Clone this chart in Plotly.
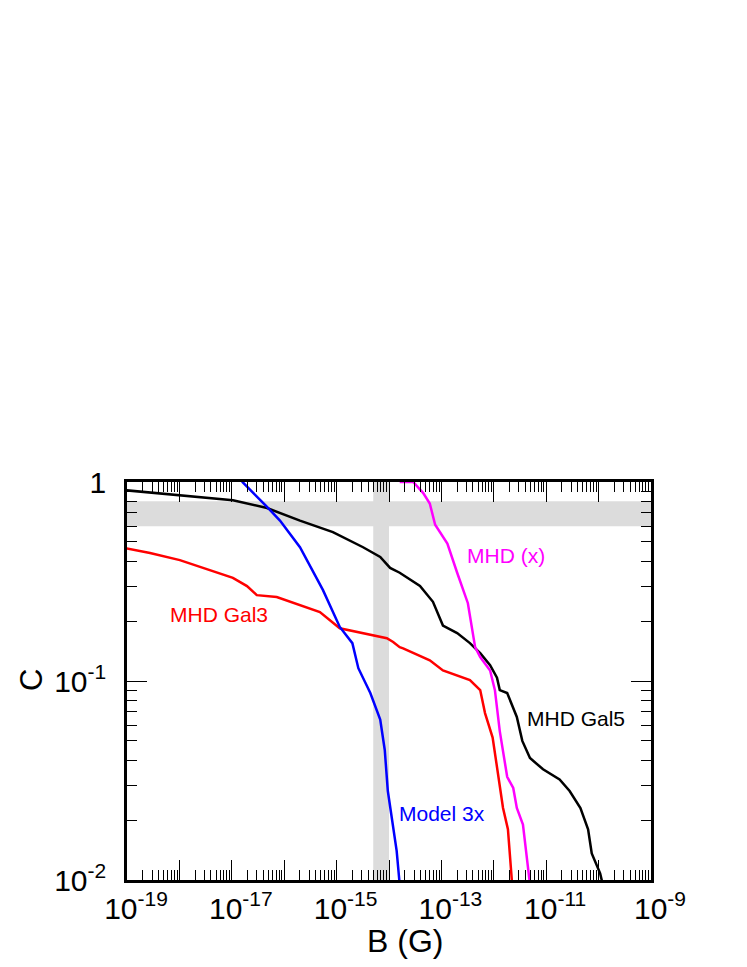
import plotly.graph_objects as go

# ---- data ----
gal5_B = [9e-20, 1.02e-18, 1.05e-17, 4.7e-17, 2.0e-16, 8.5e-16, 3.2e-15, 6.8e-15, 1.05e-14, 1.6e-14,
          3.9e-14, 6.9e-14, 1.07e-13, 2.0e-13, 3.5e-13, 5.5e-13, 8.5e-13, 1.15e-12, 1.3e-12, 1.8e-12,
          2.75e-12, 3.5e-12, 4.9e-12, 8.7e-12, 1.8e-11, 2.8e-11, 4.5e-11, 6.3e-11, 7.4e-11, 1.07e-10, 1.2e-10]
gal5_C = [0.91, 0.86, 0.81, 0.74, 0.64, 0.56, 0.47, 0.42, 0.37, 0.35,
          0.30, 0.25, 0.19, 0.174, 0.155, 0.138, 0.120, 0.104, 0.090, 0.087,
          0.066, 0.050, 0.041, 0.036, 0.032, 0.028, 0.023, 0.018, 0.0136, 0.0108, 0.0095]

gal3_B = [9e-20, 2.75e-19, 1.02e-18, 3.8e-18, 1.05e-17, 1.95e-17, 3.0e-17, 7.2e-17, 2.0e-16, 4.8e-16,
          1.15e-15, 3.2e-15, 9.1e-15, 1.2e-14, 1.6e-14, 1.86e-14, 2.9e-14, 6.0e-14, 1.07e-13, 2.6e-13,
          3.5e-13, 5.5e-13, 6.8e-13, 9.5e-13, 1.2e-12, 1.5e-12, 1.86e-12, 2.24e-12]
gal3_C = [0.466, 0.44, 0.405, 0.36, 0.33, 0.30, 0.27, 0.264, 0.24, 0.222,
          0.184, 0.174, 0.164, 0.157, 0.148, 0.146, 0.138, 0.127, 0.113, 0.104,
          0.101, 0.090, 0.069, 0.052, 0.034, 0.023, 0.018, 0.0095]

model3x_B = [1.5e-17, 1.6e-17, 4.7e-17, 8.3e-17, 2.0e-16, 3.5e-16, 5.5e-16, 1.15e-15, 2.0e-15, 2.6e-15,
             4.4e-15, 6.8e-15, 8.3e-15, 9.5e-15, 1.2e-14, 1.4e-14, 1.6e-14]
model3x_C = [1.05, 1.0, 0.75, 0.64, 0.47, 0.36, 0.286, 0.187, 0.155, 0.116,
             0.087, 0.064, 0.045, 0.028, 0.019, 0.014, 0.0095]

mhdx_B = [1.6e-14, 2.9e-14, 4.5e-14, 6.0e-14, 7.6e-14, 1.3e-13, 2.0e-13, 3.2e-13, 4.4e-13, 5.5e-13,
          8.5e-13, 1.05e-12, 1.3e-12, 1.8e-12, 2.35e-12, 2.75e-12, 3.6e-12, 4.9e-12]
mhdx_C = [1.0, 1.0, 0.88, 0.78, 0.61, 0.49, 0.35, 0.246, 0.148, 0.132,
          0.113, 0.090, 0.056, 0.033, 0.029, 0.023, 0.019, 0.0095]

# shaded bands
band_C = [0.6, 0.8]
band_B = [5e-15, 1e-14]

x_tick_vals = [1e-19, 1e-18, 1e-17, 1e-16, 1e-15, 1e-14, 1e-13, 1e-12, 1e-11, 1e-10, 1e-9]
x_tick_text = ["10<sup>-19</sup>", "", "10<sup>-17</sup>", "", "10<sup>-15</sup>", "",
               "10<sup>-13</sup>", "", "10<sup>-11</sup>", "", "10<sup>-9</sup>"]
y_tick_vals = [0.01, 0.1, 1]
y_tick_text = ["10<sup>-2</sup>", "10<sup>-1</sup>", "1"]

x_minor = [m * 10.0 ** e for e in range(-19, -9) for m in range(2, 10)]
y_minor = [m * 10.0 ** e for e in range(-2, 0) for m in range(2, 10)]

FONT = "Liberation Sans, Arial, sans-serif"

fig = go.Figure()
series = [
    (gal5_B, gal5_C, "black", "MHD Gal5"),
    (gal3_B, gal3_C, "#ff0000", "MHD Gal3"),
    (model3x_B, model3x_C, "#0000ff", "Model 3x"),
    (mhdx_B, mhdx_C, "#ff00ff", "MHD (x)"),
]
for xb, yc, col, name in series:
    fig.add_trace(go.Scatter(x=xb, y=yc, mode="lines", name=name,
                             line=dict(color=col, width=2.5), showlegend=False))

# grey bands
fig.add_shape(type="rect", xref="paper", yref="y", x0=0, x1=1, y0=band_C[0], y1=band_C[1],
              fillcolor="#dcdcdc", line=dict(width=0), layer="below")
fig.add_shape(type="rect", xref="x", yref="paper", x0=band_B[0], x1=band_B[1], y0=0, y1=1,
              fillcolor="#dcdcdc", line=dict(width=0), layer="below")

# curve labels (log coordinates for annotations on log axes)
labels = [
    ("MHD Gal3", -17.25, -0.664, "#ff0000"),
    ("MHD (x)", -11.77, -0.367, "#ff00ff"),
    ("MHD Gal5", -10.43, -1.187, "black"),
    ("Model 3x", -12.99, -1.665, "#0000ff"),
]
for txt, lx, ly, col in labels:
    fig.add_annotation(x=lx, y=ly, xref="x", yref="y", text=txt, showarrow=False,
                       xanchor="center", yanchor="middle",
                       font=dict(size=21, color=col, family=FONT))

# axis titles
fig.add_annotation(x=0.53, y=-0.153, xref="paper", yref="paper", text="B (G)", showarrow=False,
                   xanchor="center", yanchor="middle", font=dict(size=32, color="black", family=FONT))
fig.add_annotation(x=-0.183, y=0.5025, xref="paper", yref="paper", text="C", showarrow=False,
                   textangle=-90, xanchor="center", yanchor="middle",
                   font=dict(size=31, color="black", family=FONT))

axis_common = dict(type="log", ticks="inside", ticklen=20, tickwidth=1, tickcolor="black",
                   showline=True, linewidth=2.5, linecolor="black", mirror="allticks",
                   showgrid=False, zeroline=False,
                   tickfont=dict(size=30, color="black", family=FONT))

fig.update_xaxes(range=[-19, -9], tickmode="array", tickvals=x_tick_vals, ticktext=x_tick_text,
                 ticklabelshift=9,
                 minor=dict(ticks="inside", ticklen=10, tickwidth=1, tickcolor="black",
                            tickmode="array", tickvals=x_minor, showgrid=False),
                 **axis_common)
fig.update_yaxes(range=[-2, 0], tickmode="array", tickvals=y_tick_vals, ticktext=y_tick_text,
                 ticklabelstandoff=12,
                 minor=dict(ticks="inside", ticklen=10, tickwidth=1, tickcolor="black",
                            tickmode="array", tickvals=y_minor, showgrid=False),
                 **axis_common)

# page body adds an 8px offset; margins compensate so the plot area sits at 127..651 x 482..880
fig.update_layout(width=747, height=967,
                  margin=dict(l=119, r=104, t=474, b=95),
                  paper_bgcolor="white", plot_bgcolor="white",
                  font=dict(family=FONT, color="black"))

fig.write_html("out.html")
